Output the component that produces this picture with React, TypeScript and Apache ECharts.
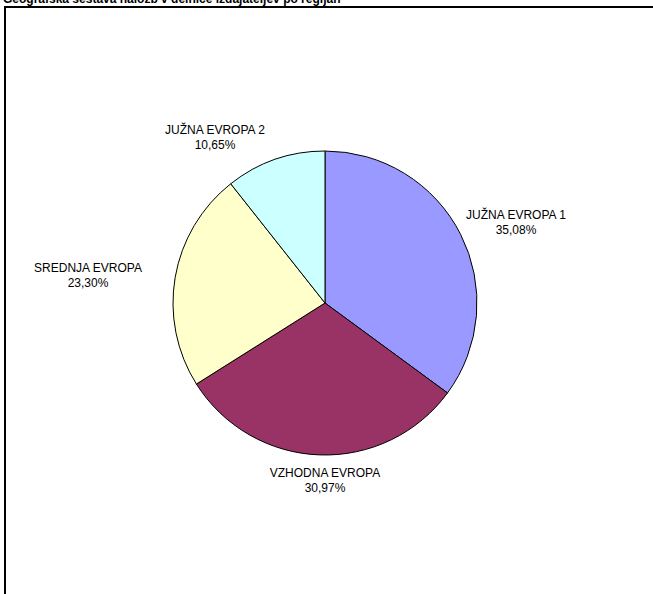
import React, { useEffect, useRef } from "react";
import * as echarts from "echarts";

const TITLE = "Geografska sestava naložb v delnice izdajateljev po regijah";
const categories = ["JUŽNA EVROPA 1", "VZHODNA EVROPA", "SREDNJA EVROPA", "JUŽNA EVROPA 2"];
const values = [35.08, 30.97, 23.3, 10.65];
const colors = ["#9999FF", "#993366", "#FFFFCC", "#CCFFFF"];
// label block centres (layout only)
const labelCenters: [number, number][] = [
  [516, 222],
  [325, 480],
  [88, 275],
  [215, 137],
];

export default function App() {
  const ref = useRef<HTMLDivElement>(null);
  useEffect(() => {
    if (!ref.current) return;
    const chart = echarts.init(ref.current, undefined, { renderer: "svg" });
    chart.setOption({
      animation: false,
      backgroundColor: "#ffffff",
      textStyle: { fontFamily: "Arial, 'Liberation Sans', sans-serif" },
      graphic: [
        {
          type: "rect",
          shape: { x: 5, y: 7, width: 800, height: 800 },
          style: { fill: "none", stroke: "#000", lineWidth: 2 },
          z: 0,
        },
        {
          type: "text",
          x: 3,
          y: -7,
          style: {
            text: TITLE,
            font: "bold 12px Arial, 'Liberation Sans', sans-serif",
            fill: "#000",
            textVerticalAlign: "top",
          },
          z: 10,
        },
      ],
      series: [
        {
          type: "pie",
          center: [325, 303],
          radius: [0, 152],
          startAngle: 90,
          clockwise: true,
          avoidLabelOverlap: false,
          itemStyle: { borderColor: "#000", borderWidth: 1 },
          emphasis: { disabled: true },
          label: {
            show: true,
            position: "outside",
            formatter: (p: any) =>
              p.name + "\n" + p.value.toFixed(2).replace(".", ",") + "%",
            fontSize: 12,
            lineHeight: 15,
            color: "#000",
            align: "center",
            fontFamily: "Arial, 'Liberation Sans', sans-serif",
          },
          labelLine: { show: false },
          labelLayout: (p: any) => {
            const c = labelCenters[p.dataIndex];
            return { x: c[0], y: c[1], align: "center", verticalAlign: "middle" };
          },
          data: categories.map((n, i) => ({
            name: n,
            value: values[i],
            itemStyle: { color: colors[i] },
          })),
        },
      ],
    });
    return () => chart.dispose();
  }, []);
  return (
    <div
      ref={ref}
      style={{ position: "fixed", left: 0, top: 0, width: 653, height: 594 }}
    />
  );
}
